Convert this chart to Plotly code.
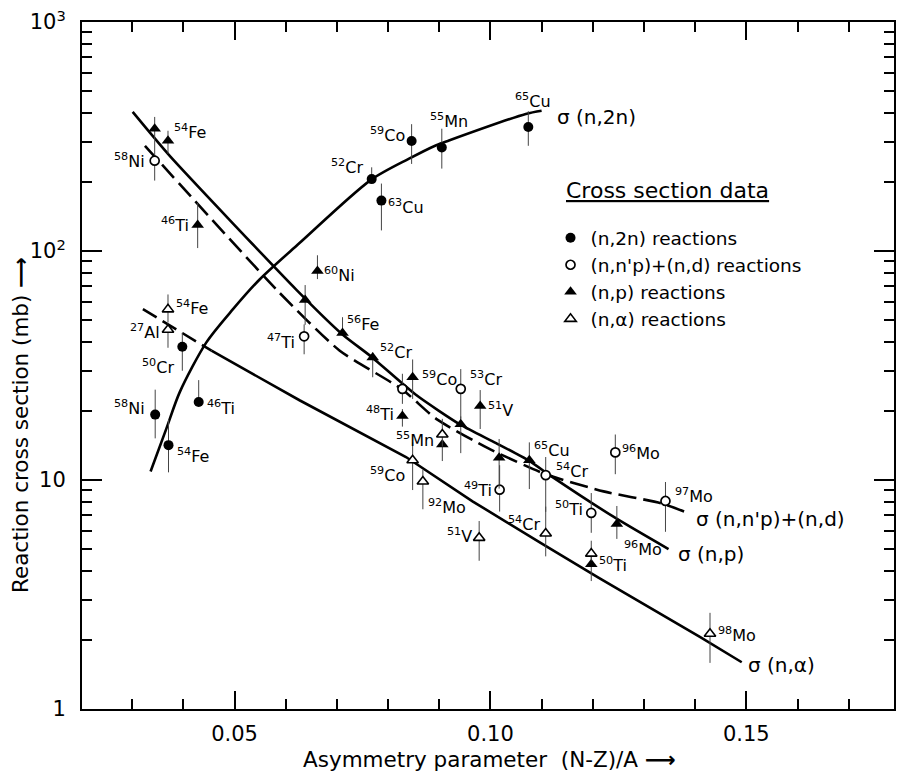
import math
import plotly.graph_objects as go

# ---------------- measured cross sections (mb) vs. asymmetry (N-Z)/A ----------------
# (n,2n) reactions
n2n_iso = ["58Ni", "54Fe", "50Cr", "46Ti", "52Cr", "63Cu", "59Co", "55Mn", "65Cu"]
n2n_x = [0.0345, 0.0371, 0.0398, 0.0430, 0.0768, 0.0787, 0.0846, 0.0905, 0.1074]
n2n_y = [19.3, 14.2, 38.2, 21.9, 206, 166, 302, 283, 348]
n2n_hi = [24.8, 18.4, 43.9, 27.3, 232, 197, 358, 342, 408]
n2n_lo = [15.2, 10.8, 30.0, 21.9, 206, 123, 240, 229, 288]

# (n,n'p)+(n,d) reactions
nnp_iso = ["58Ni", "47Ti", "48Ti", "53Cr", "49Ti", "54Cr", "50Ti", "96Mo", "97Mo"]
nnp_x = [0.0344, 0.0636, 0.0828, 0.0942, 0.1018, 0.1108, 0.1197, 0.1244, 0.1342]
nnp_y = [248, 42.4, 25.0, 25.0, 9.07, 10.5, 7.18, 13.2, 8.1]
nnp_hi = [303, 47.8, 29.1, 30.5, 11.6, 12.6, 8.77, 15.8, 9.8]
nnp_lo = [203, 35.4, 21.5, 18.5, 7.28, 7.26, 5.88, 10.6, 5.94]

# (n,p) reactions
np_iso = ["58Ni", "54Fe", "46Ti", "47Ti", "60Ni", "56Fe", "52Cr", "48Ti", "59Co",
          "55Mn", "53Cr", "51V", "49Ti", "65Cu", "50Ti", "96Mo"]
np_x = [0.0344, 0.0370, 0.0428, 0.0638, 0.0662, 0.0711, 0.0770, 0.0828, 0.0848,
        0.0906, 0.0942, 0.0980, 0.1017, 0.1076, 0.1197, 0.1247]
np_y = [342, 303, 130, 61.1, 81.7, 43.8, 34.3, 19.05, 28.1,
        14.3, 17.5, 21.05, 12.5, 12.2, 4.29, 6.43]
np_hi = [385, 335, 162, 71.0, 95.8, 51.4, 36.0, 20.4, 33.6,
         14.3, 18.95, 24.7, 15.1, 14.6, 4.98, 7.7]
np_lo = [303, 266, 103, 47.6, 75.4, 43.8, 28.1, 17.1, 22.6,
         12.1, 13.1, 16.7, 9.17, 9.13, 3.62, 5.53]

# (n,alpha) reactions
na_iso = ["54Fe", "27Al", "59Co", "92Mo", "55Mn", "51V", "54Cr", "50Ti", "98Mo"]
na_x = [0.0370, 0.0370, 0.0848, 0.0868, 0.0906, 0.0978, 0.1108, 0.1197, 0.1429]
na_y = [55.6, 45.3, 12.2, 9.85, 15.8, 5.59, 5.84, 4.77, 2.13]
na_hi = [64.6, 48.6, 14.6, 11.1, 18.5, 6.62, 7.65, 5.43, 2.63]
na_lo = [48.8, 37.8, 9.04, 7.45, 14.0, 4.44, 4.64, 4.45, 1.59]

# ---------------- systematics curves ----------------
fit_n2n_x = [0.0336, 0.0367, 0.0393, 0.0445, 0.0497, 0.0549, 0.0627, 0.0766, 0.0841, 0.0893, 0.0919, 0.1069, 0.1100]
fit_n2n_y = [10.9, 16.8, 24.2, 39.9, 55.7, 75.1, 108.3, 204, 253, 289, 304, 397, 410]

fit_np_x = [0.0301, 0.0373, 0.0621, 0.0711, 0.0769, 0.0855, 0.0942, 0.1011, 0.1075, 0.1120, 0.1245, 0.1348]
fit_np_y = [405, 261, 67.7, 43.2, 34.3, 23.5, 17.4, 14.5, 12.15, 10.35, 6.81, 4.99]

fit_nnp_x = [0.0325, 0.0588, 0.0705, 0.0827, 0.0894, 0.0997, 0.1108, 0.1221, 0.1334, 0.1387]
fit_nnp_y = [288, 65.7, 36.8, 24.9, 18.5, 13.7, 10.6, 8.92, 7.91, 7.16]

fit_na_x = [0.0321, 0.0455, 0.0627, 0.0835, 0.0965, 0.1098, 0.1211, 0.1410, 0.1491]
fit_na_y = [55.7, 36.7, 22.3, 12.6, 8.07, 5.32, 3.75, 2.06, 1.60]

# axis ticks
x_major = [0.05, 0.10, 0.15]
x_major_text = ["0.05", "0.10", "0.15"]
x_minor = [0.03, 0.04, 0.06, 0.07, 0.08, 0.09, 0.11, 0.12, 0.13, 0.14, 0.16, 0.17]
y_major = [1, 10, 100, 1000]
y_major_text = ["1", "10", "10<sup>2</sup>", "10<sup>3</sup>"]
y_minor = [m * d for d in (1, 10, 100) for m in range(2, 10)]

FONT = "DejaVu Sans"
INK = "black"


def iso_text(name):
    digits = "".join(c for c in name if c.isdigit())
    elem = "".join(c for c in name if not c.isdigit())
    return f"<sup>{digits}</sup>{elem}"


def bars(y, hi, lo):
    return dict(type="data", symmetric=False,
                array=[h - v for h, v in zip(hi, y)],
                arrayminus=[v - l for v, l in zip(y, lo)],
                color="#444", thickness=1, width=0)


fig = go.Figure()

# curves
fig.add_trace(go.Scatter(x=fit_n2n_x, y=fit_n2n_y, mode="lines", showlegend=False,
                         line=dict(color=INK, width=2.6, shape="spline", smoothing=0.8)))
fig.add_trace(go.Scatter(x=fit_np_x, y=fit_np_y, mode="lines", showlegend=False,
                         line=dict(color=INK, width=2.6, shape="spline", smoothing=0.6)))
fig.add_trace(go.Scatter(x=fit_nnp_x, y=fit_nnp_y, mode="lines", showlegend=False,
                         line=dict(color=INK, width=2.6, shape="spline", smoothing=0.6,
                                   dash="18px,7px")))
fig.add_trace(go.Scatter(x=fit_na_x[:2], y=fit_na_y[:2], mode="lines", showlegend=False,
                         line=dict(color=INK, width=2.6, dash="16px,7px")))
fig.add_trace(go.Scatter(x=fit_na_x[1:], y=fit_na_y[1:], mode="lines", showlegend=False,
                         line=dict(color=INK, width=2.6)))

# data points
fig.add_trace(go.Scatter(x=n2n_x, y=n2n_y, mode="markers", name="(n,2n) reactions",
                         error_y=bars(n2n_y, n2n_hi, n2n_lo),
                         marker=dict(symbol="circle", size=10, color=INK)))
fig.add_trace(go.Scatter(x=nnp_x, y=nnp_y, mode="markers", name="(n,n'p)+(n,d) reactions",
                         error_y=bars(nnp_y, nnp_hi, nnp_lo),
                         marker=dict(symbol="circle", size=9, color="white",
                                     line=dict(color=INK, width=1.7))))
fig.add_trace(go.Scatter(x=np_x, y=np_y, mode="markers", name="(n,p) reactions",
                         error_y=bars(np_y, np_hi, np_lo),
                         marker=dict(symbol="triangle-up", size=11, color=INK)))
fig.add_trace(go.Scatter(x=na_x, y=na_y, mode="markers", name="(n,\u03b1) reactions",
                         error_y=bars(na_y, na_hi, na_lo),
                         marker=dict(symbol="triangle-up", size=10, color="white",
                                     line=dict(color=INK, width=1.6))))

# isotope labels: (index, anchor, xshift, yshift)
label_layout = {
    "n2n": [(0, "right", -8, 7), (1, "left", 6, -10), (2, "right", -6, -20), (3, "left", 6, -5),
            (4, "right", -7, 13), (5, "left", 5, -6), (6, "right", -5, 7), (7, "center", 7, 27),
            (8, "center", 5, 26)],
    "nnp": [(0, "right", -8, 0), (1, "right", -7, -5), (3, "left", 7, 10), (4, "right", -6, 0),
            (5, "left", 8, 5), (6, "right", -6, 4), (7, "left", 5, 0), (8, "left", 8, 5)],
    "np": [(1, "left", 4, 9), (2, "right", -7, 0), (4, "left", 5, -3), (5, "left", 2, 10),
           (6, "left", 5, 6), (7, "right", -6, 2), (8, "left", 7, -1), (9, "right", -6, 5),
           (11, "left", 6, -4), (13, "left", 3, 11), (14, "left", 6, 0), (15, "left", 5, -25)],
    "na": [(0, "left", 6, 2), (1, "right", -6, -2), (2, "right", -6, -14), (3, "left", 3, -25),
           (5, "right", -5, 2), (6, "right", -4, 10), (8, "left", 6, -1)],
}
series = {"n2n": (n2n_x, n2n_y, n2n_iso), "nnp": (nnp_x, nnp_y, nnp_iso),
          "np": (np_x, np_y, np_iso), "na": (na_x, na_y, na_iso)}

annotations = []
for key, entries in label_layout.items():
    xs, ys, names = series[key]
    for i, anchor, dx, dy in entries:
        # annotation positions on a log axis are given as log10 of the value
        annotations.append(dict(x=xs[i], y=math.log10(ys[i]), yref="y", xref="x",
                                text=iso_text(names[i]),
                                showarrow=False, xanchor=anchor, yanchor="middle",
                                xshift=dx, yshift=dy,
                                font=dict(family=FONT, size=16, color=INK)))

# curve labels at the end of each curve
curve_labels = [
    (fit_n2n_x, fit_n2n_y, "\u03c3 (n,2n)", 13, -6),
    (fit_nnp_x, fit_nnp_y, "\u03c3 (n,n'p)+(n,d)", 5, -6),
    (fit_np_x, fit_np_y, "\u03c3 (n,p)", 7, -5),
    (fit_na_x, fit_na_y, "\u03c3 (n,\u03b1)", 4, -3),
]
for xs, ys, txt, dx, dy in curve_labels:
    annotations.append(dict(x=xs[-1], y=math.log10(ys[-1]), xref="x", yref="y", text=txt,
                            showarrow=False, xanchor="left", yanchor="middle",
                            xshift=dx, yshift=dy,
                            font=dict(family=FONT, size=20, color=INK)))

# legend heading
annotations.append(dict(x=0.593, y=0.755, xref="paper", yref="paper",
                        text="<u>Cross section data</u>", showarrow=False,
                        xanchor="left", yanchor="middle",
                        font=dict(family=FONT, size=22, color=INK)))

# axis titles
annotations.append(dict(x=0.27, y=-0.074, xref="paper", yref="paper",
                        text="Asymmetry parameter\u00a0\u00a0(N-Z)/A\u00a0<b>\u27f6</b>",
                        showarrow=False, xanchor="left", yanchor="middle",
                        font=dict(family=FONT, size=21.5, color=INK)))
annotations.append(dict(x=-0.075, y=0.166, xref="paper", yref="paper",
                        text="Reaction cross section (mb) <b>\u27f6</b>", showarrow=False,
                        textangle=-90, xanchor="center", yanchor="bottom",
                        font=dict(family=FONT, size=21.5, color=INK)))

axis_common = dict(showline=True, linecolor=INK, linewidth=2, mirror="ticks",
                   ticks="inside", tickcolor=INK, tickwidth=1.6, showgrid=False,
                   zeroline=False, tickfont=dict(family=FONT, size=21, color=INK))

fig.update_layout(
    width=903, height=778,
    margin=dict(l=82, r=7, t=18, b=69),
    paper_bgcolor="white", plot_bgcolor="white",
    font=dict(family=FONT, color=INK),
    xaxis=dict(range=[0.0202, 0.17885], tickvals=x_major, ticktext=x_major_text, ticklen=18,
               ticklabelstandoff=5,
               minor=dict(tickvals=x_minor, ticks="inside", ticklen=10, tickcolor=INK,
                          tickwidth=1.5, showgrid=False),
               **axis_common),
    yaxis=dict(type="log", range=[0, 3], tickvals=y_major, ticktext=y_major_text, ticklen=20,
               ticklabelstandoff=10,
               minor=dict(tickvals=y_minor, ticks="inside", ticklen=10, tickcolor=INK,
                          tickwidth=1.5, showgrid=False),
               **axis_common),
    legend=dict(x=0.577, y=0.713, xanchor="left", yanchor="top", bgcolor="rgba(0,0,0,0)",
                font=dict(family=FONT, size=18.5, color=INK), itemwidth=30,
                tracegroupgap=0),
    annotations=annotations,
)

fig.write_html("out.html")
